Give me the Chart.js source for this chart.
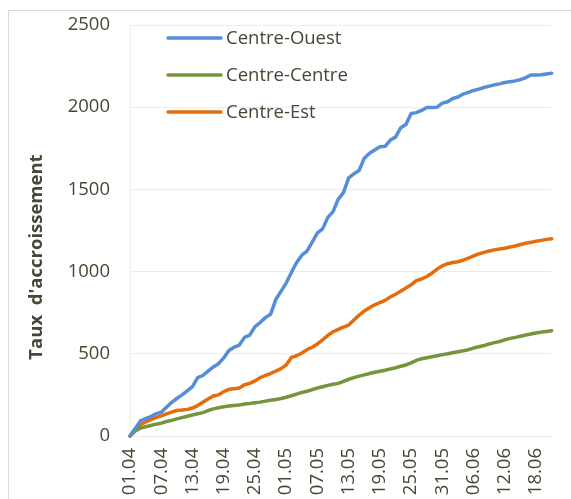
<!DOCTYPE html>
<html>
<head>
<meta charset="utf-8">
<script src="https://cdn.jsdelivr.net/npm/chart.js@4.4.1/dist/chart.umd.min.js"></script>
<style>
  html, body { margin: 0; padding: 0; background: #fff; overflow: hidden; }
  #wrap { width: 571px; height: 499px; }
</style>
</head>
<body>
<div id="wrap"><canvas id="myChart" width="571" height="499"></canvas></div>
<script>
var dates = [
  "01.04","02.04","03.04","04.04","05.04","06.04","07.04","08.04","09.04","10.04",
  "11.04","12.04","13.04","14.04","15.04","16.04","17.04","18.04","19.04","20.04",
  "21.04","22.04","23.04","24.04","25.04","26.04","27.04","28.04","29.04","30.04",
  "01.05","02.05","03.05","04.05","05.05","06.05","07.05","08.05","09.05","10.05",
  "11.05","12.05","13.05","14.05","15.05","16.05","17.05","18.05","19.05","20.05",
  "21.05","22.05","23.05","24.05","25.05","26.05","27.05","28.05","29.05","30.05",
  "31.05","01.06","02.06","03.06","04.06","05.06","06.06","07.06","08.06","09.06",
  "10.06","11.06","12.06","13.06","14.06","15.06","16.06","17.06","18.06","19.06",
  "20.06","21.06"
];

var centreOuest = [
  0, 45, 92, 105, 118, 135, 145, 175, 205, 228,
  250, 275, 300, 355, 368, 395, 420, 440, 475, 520,
  540, 553, 600, 614, 665, 690, 720, 740, 830, 880,
  930, 995, 1055, 1100, 1125, 1180, 1235, 1260, 1330, 1365,
  1440, 1480, 1570, 1595, 1615, 1690, 1720, 1740, 1760, 1762,
  1800, 1818, 1875, 1895, 1962, 1967, 1980, 1998, 1998, 2000,
  2025, 2033, 2053, 2062, 2080, 2090, 2102, 2110, 2120, 2128,
  2136, 2142, 2150, 2155, 2160, 2168, 2180, 2196, 2196, 2198,
  2202, 2206
];

var centreCentre = [
  0, 30, 48, 56, 64, 72, 78, 88, 95, 104,
  112, 120, 128, 135, 142, 155, 165, 172, 178, 182,
  185, 188, 195, 198, 202, 206, 212, 218, 222, 228,
  236, 245, 255, 265, 272, 282, 292, 300, 308, 315,
  320, 332, 345, 355, 364, 372, 380, 388, 394, 400,
  408, 415, 424, 432, 445, 460, 470, 476, 482, 488,
  495, 500, 506, 512, 518, 525, 535, 543, 550, 560,
  568, 575, 585, 594, 600, 607, 614, 620, 626, 632,
  636, 640
];

var centreEst = [
  0, 40, 68, 85, 100, 112, 122, 135, 145, 155,
  158, 162, 170, 185, 205, 225, 243, 250, 270, 284,
  288, 292, 312, 320, 335, 355, 368, 380, 395, 410,
  432, 478, 488, 505, 525, 540, 560, 585, 612, 634,
  648, 662, 675, 705, 735, 760, 780, 798, 812, 825,
  845, 862, 880, 900, 920, 945, 955, 970, 990, 1015,
  1035, 1048, 1055, 1060, 1070, 1082, 1095, 1108, 1117, 1125,
  1132, 1138, 1142, 1150, 1156, 1165, 1172, 1178, 1185, 1190,
  1196, 1200
];

var seriesNames = ["Centre-Ouest", "Centre-Centre", "Centre-Est"];
var seriesColors = ["#558ed5", "#77933c", "#e46c0a"];
var yTitle = "Taux  d'accroissement";

var textColor = "#484634";
var gridColor = "#eeece3";

// frame round the whole chart, like the office export
var framePlugin = {
  id: 'frame',
  beforeDraw: function(chart) {
    var ctx = chart.ctx;
    ctx.save();
    ctx.strokeStyle = "#dedbcc";
    ctx.lineWidth = 1;
    ctx.strokeRect(8.5, 10.5, 620, 600);
    ctx.restore();
  }
};

// y title + legend drawn inside the plot
var textPlugin = {
  id: 'texts',
  afterDraw: function(chart) {
    var ctx = chart.ctx;
    ctx.save();
    ctx.fillStyle = textColor;
    ctx.font = "bold 18.5px 'Open Sans'";
    ctx.translate(37, 257);
    ctx.rotate(-Math.PI / 2);
    ctx.textAlign = "center";
    ctx.textBaseline = "middle";
    ctx.fillText(yTitle, 0, 0);
    ctx.restore();

    ctx.save();
    var rows = [38, 75, 112];
    chart.data.datasets.forEach(function(ds, i) {
      ctx.strokeStyle = ds.borderColor;
      ctx.lineWidth = 3.5;
      ctx.lineCap = "round";
      ctx.beginPath();
      ctx.moveTo(168, rows[i]);
      ctx.lineTo(221, rows[i]);
      ctx.stroke();
      ctx.fillStyle = textColor;
      ctx.font = "18.5px 'Open Sans'";
      ctx.textAlign = "left";
      ctx.textBaseline = "middle";
      ctx.fillText(ds.label, 226, rows[i] + 1);
    });
    ctx.restore();
  }
};

new Chart("myChart", {
  type: 'line',
  data: {
    labels: dates,
    datasets: [
      { label: seriesNames[0], data: centreOuest, borderColor: seriesColors[0], backgroundColor: seriesColors[0] },
      { label: seriesNames[1], data: centreCentre, borderColor: seriesColors[1], backgroundColor: seriesColors[1] },
      { label: seriesNames[2], data: centreEst, borderColor: seriesColors[2], backgroundColor: seriesColors[2] }
    ]
  },
  options: {
    responsive: false,
    animation: false,
    layout: { padding: { left: 0, right: 19, top: 25, bottom: 0 } },
    elements: {
      line: { borderWidth: 3.5, tension: 0, borderCapStyle: 'round', borderJoinStyle: 'round' },
      point: { radius: 0 }
    },
    datasets: { line: { clip: 5 } },
    plugins: {
      legend: { display: false },
      tooltip: { enabled: false }
    },
    scales: {
      x: {
        grid: { display: false, drawTicks: false },
        border: { display: true, color: gridColor },
        ticks: {
          autoSkip: false,
          maxRotation: 90,
          minRotation: 90,
          padding: 12,
          color: textColor,
          font: { family: 'Open Sans', size: 18.5 },
          callback: function(v, i) { return i % 6 === 0 ? dates[i] : null; }
        },
        afterFit: function(scale) { scale.height = 63; }
      },
      y: {
        min: 0,
        max: 2500,
        grid: { color: gridColor, drawTicks: false },
        border: { display: true, color: gridColor },
        ticks: {
          stepSize: 500,
          padding: 20,
          color: textColor,
          font: { family: 'Open Sans', size: 18.5 },
          callback: function(v) { return String(v); }
        },
        afterFit: function(scale) {
          scale.width = 130;
          scale.paddingTop = 0;
          scale.paddingBottom = 0;
        }
      }
    }
  },
  plugins: [framePlugin, textPlugin]
});
</script>
</body>
</html>
